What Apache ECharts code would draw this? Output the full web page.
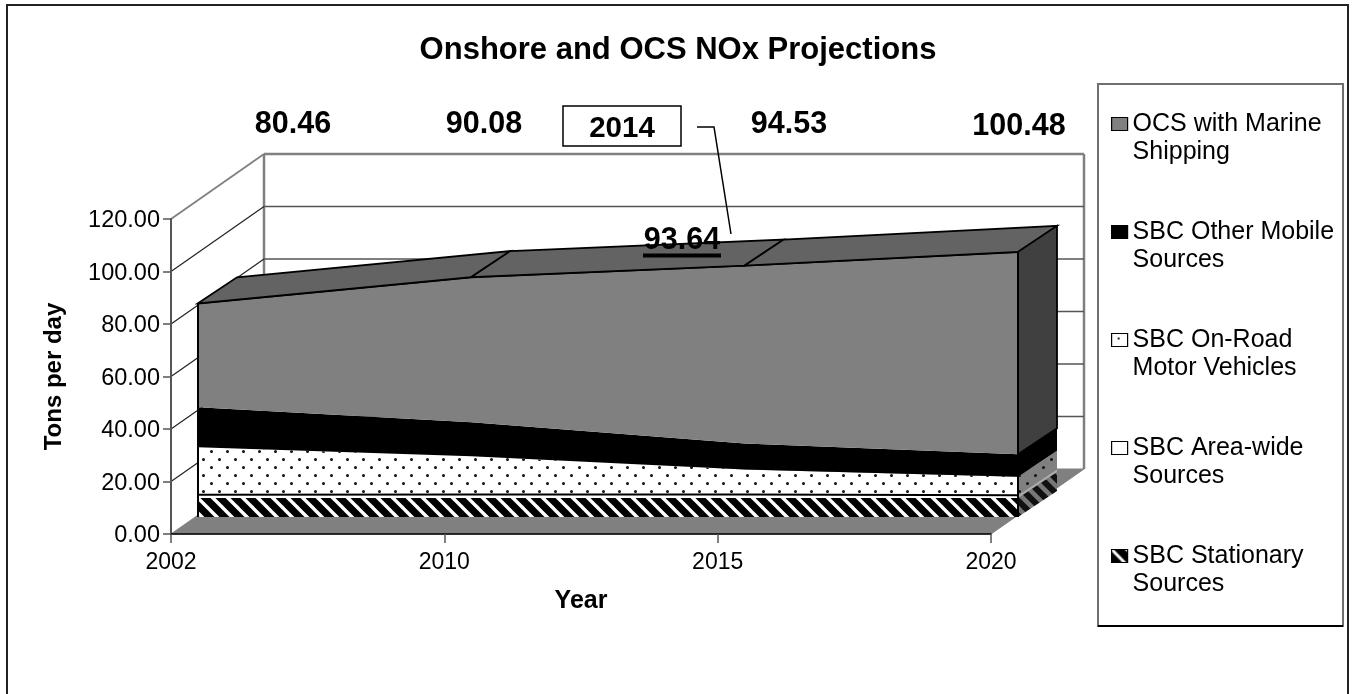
<!DOCTYPE html>
<html>
<head>
<meta charset="utf-8">
<style>html,body{margin:0;padding:0;background:#fff}#c{width:1356px;height:694px}</style>
<script src="https://cdn.jsdelivr.net/npm/echarts@6/dist/echarts.min.js"></script>
</head>
<body>
<div id="c"></div>
<script>
// ---- data ----
const categories = ['2002', '2010', '2015', '2020'];
const stationary = [7.2, 7.2, 7.2, 7.2];
const areaWide   = [1.3, 1.4, 1.4, 1.1];
const onRoad     = [18.1, 14.5, 9.5, 7.0];
const otherMobile= [15.2, 13.0, 9.9, 8.6];
const ocsMarine  = [39.6, 55.3, 67.8, 77.1];
const seriesNames = ['SBC Stationary Sources', 'SBC Area-wide Sources', 'SBC On-Road Motor Vehicles', 'SBC Other Mobile Sources', 'OCS with Marine Shipping'];
const legendOrder = ['OCS with Marine Shipping', 'SBC Other Mobile Sources', 'SBC On-Road Motor Vehicles', 'SBC Area-wide Sources', 'SBC Stationary Sources'];
const legendLines = {
  'OCS with Marine Shipping': ['OCS with Marine', 'Shipping'],
  'SBC Other Mobile Sources': ['SBC Other Mobile', 'Sources'],
  'SBC On-Road Motor Vehicles': ['SBC On-Road', 'Motor Vehicles'],
  'SBC Area-wide Sources': ['SBC Area-wide', 'Sources'],
  'SBC Stationary Sources': ['SBC Stationary', 'Sources']
};
const yTicks = [0, 20, 40, 60, 80, 100, 120];
const totalLabels = ['80.46', '90.08', '94.53', '100.48'];
const calloutYear = '2014';
const calloutValue = '93.64';

// ---- styling ----
const FONT = '"Liberation Sans", Arial, sans-serif';
const layers = [stationary, areaWide, onRoad, otherMobile, ocsMarine];

function tile(w, h, draw) {
  const c = document.createElement('canvas');
  c.width = w; c.height = h;
  draw(c.getContext('2d'));
  return { image: c, repeat: 'repeat' };
}
function dots(bg, fg) {
  return tile(16, 16, g => {
    g.fillStyle = bg; g.fillRect(0, 0, 16, 16);
    g.fillStyle = fg;
    g.beginPath(); g.arc(3.5, 3.5, 1.5, 0, 7); g.closePath(); g.arc(11.5, 11.5, 1.5, 0, 7); g.fill();
  });
}
function stripes(bg, fg, lw) {
  return tile(15, 15, g => {
    g.fillStyle = bg; g.fillRect(0, 0, 15, 15);
    g.strokeStyle = fg; g.lineWidth = lw;
    for (let k = -15; k <= 15; k += 15) {
      g.beginPath(); g.moveTo(k - 2, -2); g.lineTo(k + 17, 17); g.stroke();
    }
  });
}
const frontFill = [stripes('#000', '#fff', 3.4), '#fff', dots('#fff', '#111'), '#000', '#808080'];
const sideFill  = [stripes('#111', '#777', 4.5), '#aaa', dots('#808080', '#111'), '#000', '#404040'];
const legendFill = {
  'OCS with Marine Shipping': '#808080',
  'SBC Other Mobile Sources': '#000',
  'SBC On-Road Motor Vehicles': tile(13, 10, g => { g.fillStyle = '#fff'; g.fillRect(0, 0, 13, 10); g.fillStyle = '#222'; g.fillRect(6, 4, 2, 2); }),
  'SBC Area-wide Sources': '#fff',
  'SBC Stationary Sources': stripes('#000', '#fff', 3)
};

// cumulative tops from the series arrays
const cum = [];
layers.forEach((arr, li) => cum.push(arr.map((v, i) => v + (li ? cum[li - 1][i] : 0))));
const totals = cum[cum.length - 1];
const last = categories.length - 1;

const WALL = [93, -65];   // full depth of the box
const SOLID = [39, -26];  // depth of the stacked solid

const poly = (pts, style) => ({ type: 'polygon', shape: { points: pts }, style });
const line = (a, b, stroke, lineWidth) => ({ type: 'line', shape: { x1: a[0], y1: a[1], x2: b[0], y2: b[1] }, style: { stroke, lineWidth, fill: null } });
const add = (p, d) => [p[0] + d[0], p[1] + d[1]];

// walls, floor and gridlines of the box
const wallsSeries = {
  type: 'custom', xAxisIndex: 0, yAxisIndex: 0, z: 1, silent: true, animation: false,
  data: yTicks.map(v => [0, v]), encode: { x: 0, y: 1 },
  renderItem(params, api) {
    const v = api.value(1);
    const fl = api.coord([0, v]);
    const fr = api.coord([last, v]);
    const bl = add(fl, WALL), br = add(fr, WALL);
    const top = v === yTicks[yTicks.length - 1];
    const kids = [];
    if (v === 0) {
      const tl = api.coord([0, yTicks[yTicks.length - 1]]);
      const tr = api.coord([last, yTicks[yTicks.length - 1]]);
      kids.push(poly([fl, fr, br, bl], { fill: '#808080', stroke: '#808080', lineWidth: 1 }));
      kids.push(line(bl, add(tl, WALL), '#808080', 2.5));
      kids.push(line(br, add(tr, WALL), '#808080', 2.5));
    } else {
      kids.push(line(fl, bl, top ? '#808080' : '#222', top ? 1.8 : 1.2));
      kids.push(line(bl, br, top ? '#808080' : '#555', top ? 2.5 : 1.4));
    }
    return { type: 'group', children: kids };
  }
};

// stacked front faces
const areaSeries = layers.map((arr, li) => ({
  name: seriesNames[li], type: 'line', stack: 'all', xAxisIndex: 1, yAxisIndex: 1,
  data: arr, symbol: 'none', z: 3, silent: true, animation: false,
  areaStyle: { color: frontFill[li], opacity: 1 },
  lineStyle: li === 4 ? { color: '#000', width: 2.2 } : li === 1 ? { color: '#000', width: 2 } : { width: 0 },
  itemStyle: { color: '#808080' }
}));

// top faces of the solid, one per segment
const topFaces = {
  type: 'custom', xAxisIndex: 1, yAxisIndex: 1, z: 4, silent: true, animation: false,
  data: totals.slice(0, -1).map((t, i) => [i, t, totals[i + 1]]), encode: { x: 0, y: 1 },
  renderItem(params, api) {
    const i = api.value(0);
    const a = api.coord([i, api.value(1)]);
    const b = api.coord([i + 1, api.value(2)]);
    return poly([a, b, add(b, SOLID), add(a, SOLID)], { fill: '#636363', stroke: '#000', lineWidth: 1.8 });
  }
};

// right hand faces of every layer
const sideFaces = {
  type: 'custom', xAxisIndex: 1, yAxisIndex: 1, z: 4, silent: true, animation: false,
  data: layers.map((arr, li) => [last, li ? cum[li - 1][last] : 0, cum[li][last], li]), encode: { x: 0, y: 1 },
  renderItem(params, api) {
    const lo = api.coord([last, api.value(1)]);
    const hi = api.coord([last, api.value(2)]);
    const li = api.value(3);
    return poly([lo, hi, add(hi, SOLID), add(lo, SOLID)],
      { fill: sideFill[li], stroke: li === 4 ? '#000' : null, lineWidth: li === 4 ? 1.8 : 0 });
  }
};

// vertical outline at both ends of the front face
const frontEdges = {
  type: 'custom', xAxisIndex: 1, yAxisIndex: 1, z: 5, silent: true, animation: false,
  data: [[0, totals[0]], [last, totals[last]]], encode: { x: 0, y: 1 },
  renderItem(params, api) {
    const i = api.value(0);
    const a = api.coord([i, 0]), b = api.coord([i, api.value(1)]);
    return line(a, b, '#000', 2);
  }
};

const txt = (text, x, y, size, extra) => ({
  type: 'text', x, y, z: 20, silent: true,
  style: Object.assign({ text, font: 'bold ' + size + 'px ' + FONT, fill: '#000', textAlign: 'center', textVerticalAlign: 'middle' }, extra || {})
});

const option = {
  animation: false,
  backgroundColor: '#fff',
  title: {
    text: 'Onshore and OCS NOx Projections', left: 'center', top: 30,
    textStyle: { fontFamily: FONT, fontWeight: 'bold', fontSize: 31, color: '#000' }
  },
  legend: {
    orient: 'vertical', left: 1106, top: 77, itemWidth: 16, itemHeight: 13, itemGap: 24, selectedMode: false,
    formatter: n => '\n' + legendLines[n].join('\n'),
    textStyle: { fontFamily: FONT, fontSize: 25, lineHeight: 28, color: '#000' },
    data: legendOrder.map(n => ({
      name: n, icon: 'rect',
      itemStyle: { color: legendFill[n], borderColor: '#000', borderWidth: 1.2 }
    }))
  },
  grid: [
    { left: 171, top: 219, width: 820, height: 315 },
    { left: 198, top: 202, width: 820, height: 315 }
  ],
  xAxis: [
    {
      type: 'category', gridIndex: 0, data: categories, boundaryGap: false, z: 10,
      name: 'Year', nameLocation: 'middle', nameGap: 55,
      nameTextStyle: { fontFamily: FONT, fontWeight: 'bold', fontSize: 25, color: '#000' },
      axisLine: { lineStyle: { color: '#000', width: 1.5 } },
      axisTick: { show: true, length: 9, lineStyle: { color: '#555', width: 1.5 } },
      axisLabel: { fontFamily: FONT, fontSize: 23, color: '#000', margin: 17, showMinLabel: true, showMaxLabel: true, interval: 0 },
      splitLine: { show: false }
    },
    { type: 'category', gridIndex: 1, data: categories, boundaryGap: false, show: false }
  ],
  yAxis: [
    {
      type: 'value', gridIndex: 0, min: 0, max: 120, interval: 20, z: 10,
      name: 'Tons per day', nameLocation: 'middle', nameGap: 105,
      nameTextStyle: { fontFamily: FONT, fontWeight: 'bold', fontSize: 24, color: '#000' },
      axisLine: { show: true, lineStyle: { color: '#555', width: 2 } },
      axisTick: { show: true, length: 8, lineStyle: { color: '#555', width: 1.5 } },
      axisLabel: { fontFamily: FONT, fontSize: 23.5, color: '#000', margin: 11, verticalAlign: 'top', lineHeight: 4, formatter: v => v.toFixed(2) },
      splitLine: { show: false }
    },
    { type: 'value', gridIndex: 1, min: 0, max: 120, interval: 20, show: false }
  ],
  series: [wallsSeries].concat(areaSeries, [topFaces, sideFaces, frontEdges]),
  graphic: [
    // outer frame (bottom runs off the picture)
    { type: 'rect', z: -5, silent: true, shape: { x: 7, y: 5, width: 1341, height: 700 }, style: { fill: '#fff', stroke: '#222', lineWidth: 2 } },
    // legend frame
    { type: 'rect', z: -4, silent: true, shape: { x: 1098, y: 84, width: 245, height: 542 }, style: { fill: '#fff', stroke: '#707070', lineWidth: 2 } },
    { type: 'line', z: -3, silent: true, shape: { x1: 1098, y1: 626, x2: 1343, y2: 626 }, style: { stroke: '#000', lineWidth: 2 } },
    txt(totalLabels[0], 293, 125, 30.5),
    txt(totalLabels[1], 484, 125, 30.5),
    txt(totalLabels[2], 789, 125, 30.5),
    txt(totalLabels[3], 1019, 127, 30.5),
    { type: 'rect', z: 20, silent: true, shape: { x: 563, y: 106, width: 118, height: 40 }, style: { fill: '#fff', stroke: '#000', lineWidth: 1.5 } },
    txt(calloutYear, 622, 129, 29.5, { z: 21 }),
    { type: 'polyline', z: 20, silent: true, shape: { points: [[697, 127], [714, 127], [731, 234]] }, style: { stroke: '#000', lineWidth: 1.5, fill: null } },
    txt(calloutValue, 682, 241, 30.5),
    { type: 'rect', z: 20, silent: true, shape: { x: 643, y: 253.5, width: 78, height: 4 }, style: { fill: '#000' } }
  ]
};
const chart = echarts.init(document.getElementById('c'), null, { renderer: 'canvas' });
chart.setOption(option);
</script>
</body>
</html>
